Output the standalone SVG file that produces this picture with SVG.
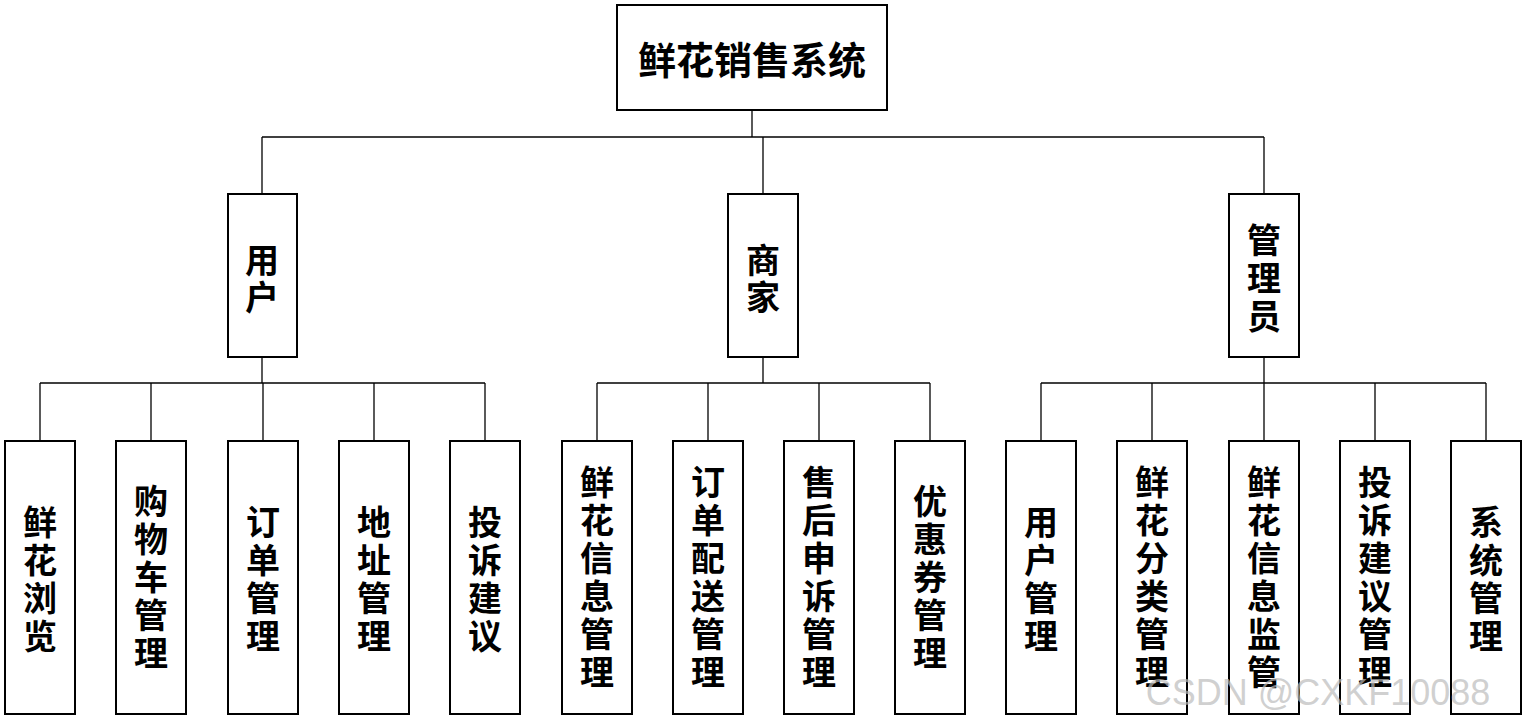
<svg xmlns="http://www.w3.org/2000/svg" width="1525" height="719" viewBox="0 0 1525 719">
<style>
rect{fill:#fff;stroke:#000;stroke-width:2}
line{stroke:#000;stroke-width:1.3;fill:none}
text{font-family:"Noto Sans CJK SC",sans-serif;font-weight:bold;font-size:34px;text-anchor:middle;dominant-baseline:central;fill:#000}
</style>
<rect width="1525" height="719" style="stroke:none"/>
<g id="connectors">
<line x1="752" y1="110" x2="752" y2="137"/>
<line x1="262" y1="137" x2="1264" y2="137"/>
<line x1="262" y1="137" x2="262" y2="194"/><line x1="763" y1="137" x2="763" y2="194"/><line x1="1264" y1="137" x2="1264" y2="194"/>
<line x1="262" y1="357" x2="262" y2="383"/><line x1="763" y1="357" x2="763" y2="383"/><line x1="1264" y1="357" x2="1264" y2="383"/>
<line x1="40" y1="383" x2="485" y2="383"/><line x1="597" y1="383" x2="930" y2="383"/><line x1="1041" y1="383" x2="1486" y2="383"/>
<line x1="40" y1="383" x2="40" y2="441"/><line x1="151" y1="383" x2="151" y2="441"/><line x1="263" y1="383" x2="263" y2="441"/><line x1="374" y1="383" x2="374" y2="441"/><line x1="485" y1="383" x2="485" y2="441"/>
<line x1="597" y1="383" x2="597" y2="441"/><line x1="708" y1="383" x2="708" y2="441"/><line x1="819" y1="383" x2="819" y2="441"/><line x1="930" y1="383" x2="930" y2="441"/>
<line x1="1041" y1="383" x2="1041" y2="441"/><line x1="1152" y1="383" x2="1152" y2="441"/><line x1="1264" y1="383" x2="1264" y2="441"/><line x1="1375" y1="383" x2="1375" y2="441"/><line x1="1486" y1="383" x2="1486" y2="441"/>
</g>
<g id="root"><rect x="617" y="5" width="270" height="105"/><text x="752" y="57" style="font-size:38px">鲜花销售系统</text></g>
<g id="n-user"><rect x="228" y="194" width="69" height="163"/><text><tspan x="262" y="258">用</tspan><tspan x="262" y="295">户</tspan></text></g>
<g id="n-merchant"><rect x="728" y="194" width="70" height="163"/><text><tspan x="763" y="258">商</tspan><tspan x="763" y="295">家</tspan></text></g>
<g id="n-admin"><rect x="1229" y="194" width="70" height="163"/><text><tspan x="1264" y="238">管</tspan><tspan x="1264" y="276">理</tspan><tspan x="1264" y="314">员</tspan></text></g>

<g id="u1"><rect x="5" y="441" width="70" height="273"/><text><tspan x="40" y="520">鲜</tspan><tspan x="40" y="558">花</tspan><tspan x="40" y="596">浏</tspan><tspan x="40" y="634">览</tspan></text></g>
<g id="u2"><rect x="116" y="441" width="70" height="273"/><text><tspan x="151" y="499">购</tspan><tspan x="151" y="537">物</tspan><tspan x="151" y="575">车</tspan><tspan x="151" y="613">管</tspan><tspan x="151" y="651">理</tspan></text></g>
<g id="u3"><rect x="228" y="441" width="70" height="273"/><text><tspan x="263" y="520">订</tspan><tspan x="263" y="558">单</tspan><tspan x="263" y="596">管</tspan><tspan x="263" y="634">理</tspan></text></g>
<g id="u4"><rect x="339" y="441" width="70" height="273"/><text><tspan x="374" y="520">地</tspan><tspan x="374" y="558">址</tspan><tspan x="374" y="596">管</tspan><tspan x="374" y="634">理</tspan></text></g>
<g id="u5"><rect x="450" y="441" width="70" height="273"/><text><tspan x="485" y="520">投</tspan><tspan x="485" y="558">诉</tspan><tspan x="485" y="596">建</tspan><tspan x="485" y="634">议</tspan></text></g>

<g id="m1"><rect x="562" y="441" width="70" height="273"/><text><tspan x="597" y="480">鲜</tspan><tspan x="597" y="518">花</tspan><tspan x="597" y="556">信</tspan><tspan x="597" y="594">息</tspan><tspan x="597" y="632">管</tspan><tspan x="597" y="670">理</tspan></text></g>
<g id="m2"><rect x="673" y="441" width="70" height="273"/><text><tspan x="708" y="480">订</tspan><tspan x="708" y="518">单</tspan><tspan x="708" y="556">配</tspan><tspan x="708" y="594">送</tspan><tspan x="708" y="632">管</tspan><tspan x="708" y="670">理</tspan></text></g>
<g id="m3"><rect x="784" y="441" width="70" height="273"/><text><tspan x="819" y="480">售</tspan><tspan x="819" y="518">后</tspan><tspan x="819" y="556">申</tspan><tspan x="819" y="594">诉</tspan><tspan x="819" y="632">管</tspan><tspan x="819" y="670">理</tspan></text></g>
<g id="m4"><rect x="895" y="441" width="70" height="273"/><text><tspan x="930" y="499">优</tspan><tspan x="930" y="537">惠</tspan><tspan x="930" y="575">券</tspan><tspan x="930" y="613">管</tspan><tspan x="930" y="651">理</tspan></text></g>

<g id="a1"><rect x="1006" y="441" width="70" height="273"/><text><tspan x="1041" y="520">用</tspan><tspan x="1041" y="558">户</tspan><tspan x="1041" y="596">管</tspan><tspan x="1041" y="634">理</tspan></text></g>
<g id="a2"><rect x="1117" y="441" width="70" height="273"/><text><tspan x="1152" y="480">鲜</tspan><tspan x="1152" y="518">花</tspan><tspan x="1152" y="556">分</tspan><tspan x="1152" y="594">类</tspan><tspan x="1152" y="632">管</tspan><tspan x="1152" y="670">理</tspan></text></g>
<g id="a3"><rect x="1229" y="441" width="70" height="273"/><text><tspan x="1264" y="480">鲜</tspan><tspan x="1264" y="518">花</tspan><tspan x="1264" y="556">信</tspan><tspan x="1264" y="594">息</tspan><tspan x="1264" y="632">监</tspan><tspan x="1264" y="670">管</tspan></text></g>
<g id="a4"><rect x="1340" y="441" width="70" height="273"/><text><tspan x="1375" y="480">投</tspan><tspan x="1375" y="518">诉</tspan><tspan x="1375" y="556">建</tspan><tspan x="1375" y="594">议</tspan><tspan x="1375" y="632">管</tspan><tspan x="1375" y="670">理</tspan></text></g>
<g id="a5"><rect x="1451" y="441" width="70" height="273"/><text><tspan x="1486" y="520">系</tspan><tspan x="1486" y="558">统</tspan><tspan x="1486" y="596">管</tspan><tspan x="1486" y="634">理</tspan></text></g>
<text x="1318" y="692" style="font-family:'Liberation Sans',sans-serif;font-weight:normal;font-size:36px;fill:#bbb;fill-opacity:0.7">CSDN @CXKF10088</text>
</svg>
